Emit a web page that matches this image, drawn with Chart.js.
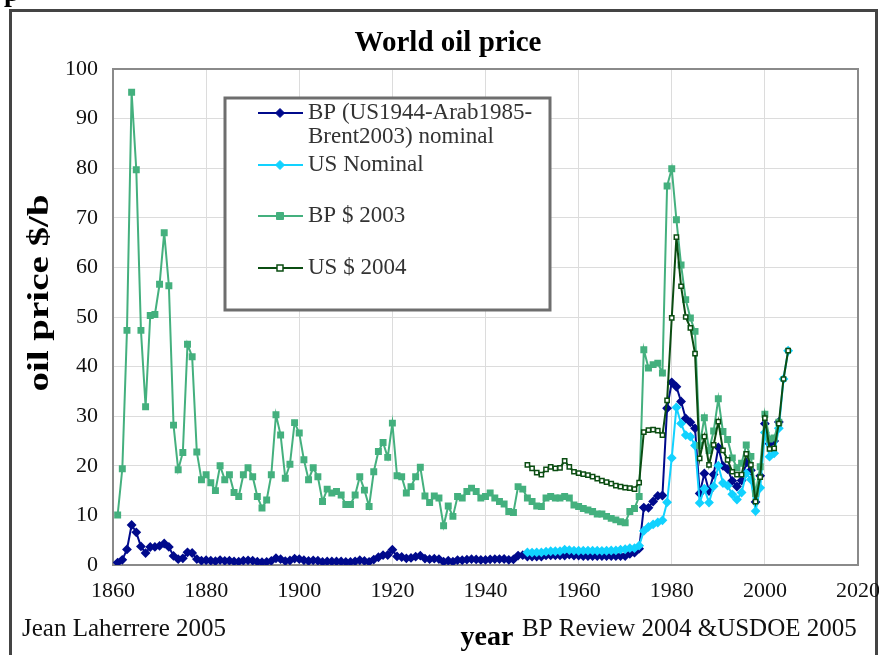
<!DOCTYPE html>
<html>
<head>
<meta charset="utf-8">
<script src="https://cdn.jsdelivr.net/npm/chart.js@4.4.1/dist/chart.umd.min.js"></script>
<style>
  html, body { margin: 0; padding: 0; background: #fff; }
  #wrap { width: 879px; height: 655px; position: relative; }
</style>
</head>
<body>
<div id="wrap"><canvas id="myChart" width="879" height="655"></canvas></div>
<script>
// years
const bpFirstYear = 1861;   // BP series run 1861-2003
const usFirstYear = 1949;   // US series run 1949-2005
const xTicks = [1860, 1880, 1900, 1920, 1940, 1960, 1980, 2000, 2020];
const yTicks = [0, 10, 20, 30, 40, 50, 60, 70, 80, 90, 100];

// BP (US1944-Arab1985-Brent2003) nominal, $/b, 1861-2003
const bpNominal = [
  0.49, 1.05, 3.15, 8.06, 6.59, 3.74, 2.41, 3.63, 3.64, 3.86,
  4.34, 3.64, 1.83, 1.17, 1.35, 2.56, 2.42, 1.19, 0.86, 0.95,
  0.86, 0.78, 1.00, 0.84, 0.88, 0.71, 0.67, 0.88, 0.94, 0.87,
  0.67, 0.56, 0.64, 0.84, 1.36, 1.18, 0.79, 0.91, 1.29, 1.19,
  0.96, 0.80, 0.94, 0.86, 0.62, 0.73, 0.72, 0.72, 0.70, 0.61,
  0.61, 0.74, 0.95, 0.81, 0.64, 1.10, 1.56, 1.98, 2.01, 3.07,
  1.73, 1.61, 1.34, 1.43, 1.68, 1.88, 1.30, 1.17, 1.27, 1.19,
  0.65, 0.87, 0.67, 1.00, 0.97, 1.09, 1.18, 1.13, 1.02, 1.02,
  1.14, 1.19, 1.20, 1.21, 1.05, 1.12, 1.90, 1.99, 1.71, 1.71,
  1.71, 1.71, 1.93, 1.93, 1.93, 1.93, 1.90, 2.08, 1.90, 1.90,
  1.80, 1.80, 1.80, 1.80, 1.80, 1.80, 1.80, 1.80, 1.80, 1.80,
  2.24, 2.48, 3.29, 11.58, 11.53, 12.80, 13.92, 14.02, 31.61, 36.83,
  35.93, 32.97, 29.55, 28.78, 27.56, 14.43, 18.44, 14.92, 18.23, 23.73,
  20.00, 19.32, 16.97, 15.82, 17.02, 20.67, 19.09, 12.72, 17.97, 28.50,
  24.44, 25.02, 28.83
];

// BP $ 2003, 1861-2003
const bp2003 = [
  10.1, 19.4, 47.3, 95.3, 79.7, 47.3, 31.9, 50.3, 50.5, 56.6,
  67.0, 56.3, 28.2, 19.2, 22.7, 44.5, 42.0, 22.8, 17.2, 18.2,
  16.6, 15.0, 20.0, 17.2, 18.2, 14.6, 13.8, 18.2, 19.6, 17.8,
  13.8, 11.5, 13.1, 18.2, 30.3, 26.2, 17.5, 20.3, 28.7, 26.6,
  21.2, 17.2, 19.6, 17.8, 12.8, 15.3, 14.5, 14.8, 14.1, 12.2,
  12.2, 14.1, 17.8, 15.1, 11.8, 18.8, 22.9, 24.7, 21.7, 28.6,
  18.0, 17.8, 14.5, 15.8, 17.8, 19.7, 13.9, 12.6, 13.9, 13.5,
  7.9, 11.9, 9.8, 13.8, 13.5, 14.8, 15.5, 14.8, 13.5, 13.8,
  14.5, 13.5, 12.8, 12.3, 10.8, 10.6, 15.8, 15.3, 13.5, 12.8,
  11.9, 11.8, 13.5, 13.8, 13.5, 13.5, 13.8, 13.5, 12.1, 11.8,
  11.4, 11.1, 10.8, 10.3, 10.3, 9.8, 9.4, 9.1, 8.7, 8.5,
  10.8, 11.4, 13.8, 43.4, 39.7, 40.4, 40.7, 38.7, 76.4, 79.9,
  69.6, 60.5, 53.5, 49.8, 47.1, 24.1, 29.7, 23.1, 27.0, 33.5,
  26.9, 25.3, 21.6, 19.6, 20.5, 24.2, 21.9, 14.4, 19.8, 30.4,
  25.4, 25.6, 28.8
];

// US Nominal, 1949-2005
const usNominal = [
  2.54, 2.51, 2.53, 2.53, 2.68, 2.78, 2.77, 2.79, 3.09, 3.01,
  2.90, 2.88, 2.89, 2.90, 2.89, 2.88, 2.86, 2.88, 2.92, 2.94,
  3.09, 3.18, 3.39, 3.39, 3.89, 6.87, 7.67, 8.19, 8.57, 9.00,
  12.64, 21.59, 31.77, 28.52, 26.19, 25.88, 24.09, 12.51, 15.40, 12.58,
  15.86, 20.03, 16.54, 15.99, 14.25, 13.19, 14.62, 18.46, 17.23, 10.87,
  15.56, 26.72, 21.84, 22.51, 27.56, 37.5, 43.2
];

// US $ 2004, 1949-2005
const us2004 = [
  20.2, 19.5, 18.6, 18.2, 19.3, 19.8, 19.5, 19.6, 21.0, 19.8,
  18.8, 18.5, 18.3, 18.1, 17.8, 17.4, 17.0, 16.7, 16.4, 16.0,
  15.8, 15.6, 15.5, 15.3, 16.6, 26.8, 27.2, 27.3, 27.1, 26.2,
  33.2, 49.8, 66.1, 56.2, 50.0, 47.8, 42.6, 21.5, 25.9, 20.2,
  24.2, 28.9, 23.1, 21.2, 18.8, 18.2, 18.2, 22.4, 20.2, 12.8,
  17.7, 29.6, 23.4, 23.5, 28.5, 37.5, 43.2
];

const seriesNames = [
  ["BP (US1944-Arab1985-", "Brent2003) nominal"],
  ["US Nominal"],
  ["BP $ 2003"],
  ["US $ 2004"]
];

function toPoints(first, values) {
  return values.map((v, i) => ({ x: first + i, y: v }));
}

const serif = "'Liberation Serif', 'Times New Roman', serif";

// frame, titles and the boxed legend, all drawn on the canvas
const decorPlugin = {
  id: "decor",
  beforeDraw(chart) {
    const c = chart.ctx;
    c.save();
    c.fillStyle = "#fff";
    c.fillRect(0, 0, chart.width, chart.height);
    // outer frame (bottom edge off the picture)
    c.strokeStyle = "#444";
    c.lineWidth = 3;
    c.strokeRect(10.5, 10.5, 866, 700);
    // bit of text cut off above the frame
    c.fillStyle = "#000";
    c.font = "bold 28px " + serif;
    c.textBaseline = "alphabetic";
    c.fillText("p", 4, 1);
    c.restore();
  },
  beforeDatasetsDraw(chart) {
    const a = chart.chartArea;
    const c = chart.ctx;
    c.save();
    c.strokeStyle = "#8a8a8a";
    c.lineWidth = 2;
    c.strokeRect(a.left, a.top, a.right - a.left, a.bottom - a.top);
    c.restore();
  },
  afterDraw(chart) {
    const c = chart.ctx;
    c.save();
    c.fillStyle = "#000";
    c.textBaseline = "middle";
    c.textAlign = "center";
    c.font = "bold 29px " + serif;
    c.fillText("World oil price", 448, 44);

    c.font = "bold 28px " + serif;
    c.fillText("year", 487, 638);

    c.save();
    c.translate(40, 293);
    c.rotate(-Math.PI / 2);
    c.scale(1.3, 1);
    c.font = "bold 30px " + serif;
    c.fillText("oil price $/b", 0, 0);
    c.restore();

    c.font = "25px " + serif;
    c.fillStyle = "#111";
    c.textAlign = "left";
    c.fillText("Jean Laherrere 2005", 22, 629);
    c.fillText("BP Review 2004 &USDOE 2005", 522, 629);

    // legend box
    const bx = 225, by = 98, bw = 325, bh = 212;
    c.fillStyle = "#fff";
    c.fillRect(bx, by, bw, bh);
    c.strokeStyle = "#6e6e6e";
    c.lineWidth = 3;
    c.strokeRect(bx, by, bw, bh);

    const rows = [113, 165, 216, 268];
    c.font = "23px " + serif;
    rows.forEach((y, k) => {
      const ds = chart.data.datasets[k];
      c.strokeStyle = ds.borderColor;
      c.lineWidth = 2;
      c.beginPath();
      c.moveTo(258, y);
      c.lineTo(303, y);
      c.stroke();
      c.fillStyle = ds.pointBackgroundColor;
      c.strokeStyle = ds.pointBorderColor;
      c.lineWidth = ds.pointBorderWidth || 1;
      c.beginPath();
      const r = ds.pointRadius;
      if (ds.pointStyle === "rect") {
        c.rect(280 - r, y - r, 2 * r, 2 * r);
      } else {
        c.moveTo(280, y - r - 1); c.lineTo(280 + r + 1, y);
        c.lineTo(280, y + r + 1); c.lineTo(280 - r - 1, y); c.closePath();
      }
      c.fill();
      c.stroke();
      c.fillStyle = "#333";
      seriesNames[k].forEach((t, j) => c.fillText(t, 308, y + j * 24));
    });
    c.restore();
  }
};

const ctx = document.getElementById("myChart");
const myChart = new Chart(ctx, {
  type: "line",
  data: {
    datasets: [
      {
        label: seriesNames[0].join(""),
        data: toPoints(bpFirstYear, bpNominal),
        borderColor: "#000a8c",
        backgroundColor: "#000a8c",
        pointBackgroundColor: "#000a8c",
        pointBorderColor: "#000a8c",
        pointStyle: "rectRot",
        pointRadius: 3.5,
        borderWidth: 2,
        order: 4
      },
      {
        label: seriesNames[1][0],
        data: toPoints(usFirstYear, usNominal),
        borderColor: "#12d2ff",
        backgroundColor: "#12d2ff",
        pointBackgroundColor: "#12d2ff",
        pointBorderColor: "#12d2ff",
        pointStyle: "rectRot",
        pointRadius: 3.5,
        borderWidth: 2,
        order: 3
      },
      {
        label: seriesNames[2][0],
        data: toPoints(bpFirstYear, bp2003),
        borderColor: "#44b07e",
        backgroundColor: "#44b07e",
        pointBackgroundColor: "#44b07e",
        pointBorderColor: "#44b07e",
        pointStyle: "rect",
        pointRadius: 3.5,
        borderWidth: 2,
        order: 2
      },
      {
        label: seriesNames[3][0],
        data: toPoints(usFirstYear, us2004),
        borderColor: "#0b4d12",
        backgroundColor: "#ffffff",
        pointBackgroundColor: "#ffffff",
        pointBorderColor: "#0b4d12",
        pointBorderWidth: 1.5,
        pointStyle: "rect",
        pointRadius: 3,
        borderWidth: 2,
        order: 1
      }
    ]
  },
  options: {
    responsive: false,
    animation: false,
    events: [],
    layout: { padding: { top: 69, right: 21, left: 0, bottom: 0 } },
    plugins: {
      legend: { display: false },
      title: { display: false },
      tooltip: { enabled: false }
    },
    elements: { line: { tension: 0 } },
    scales: {
      x: {
        type: "linear",
        min: 1860,
        max: 2020,
        afterFit: s => { s.height = 90; s.paddingLeft = 0; s.paddingRight = 0; },
        afterBuildTicks: s => { s.ticks = xTicks.map(v => ({ value: v })); },
        grid: { color: "#dcdcdc", lineWidth: 1, drawTicks: false },
        border: { display: false },
        ticks: {
          padding: 13,
          maxRotation: 0,
          color: "#111",
          font: { family: serif, size: 22 },
          callback: v => String(v)
        }
      },
      y: {
        min: 0,
        max: 100,
        afterFit: s => { s.width = 113; s.paddingTop = 0; s.paddingBottom = 0; },
        afterBuildTicks: s => { s.ticks = yTicks.map(v => ({ value: v })); },
        grid: { color: "#dcdcdc", lineWidth: 1, drawTicks: false },
        border: { display: false },
        ticks: {
          padding: 15,
          color: "#111",
          font: { family: serif, size: 22 }
        }
      }
    }
  },
  plugins: [decorPlugin]
});
</script>
</body>
</html>
